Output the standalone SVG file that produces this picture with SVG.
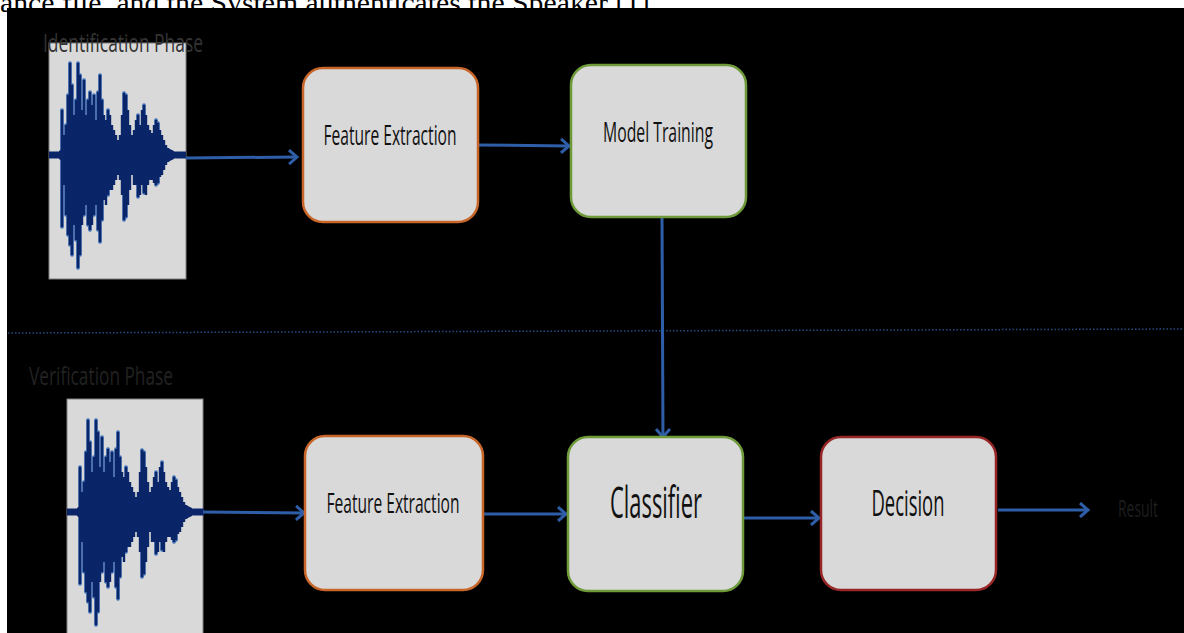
<svg xmlns="http://www.w3.org/2000/svg" xmlns:xlink="http://www.w3.org/1999/xlink" width="1184" height="633" viewBox="0 0 1184 633">
<defs>
<style>
.box{fill:#d9d9d9;stroke-width:2.5}
.lbl{font-family:"Open Sans","Liberation Sans",sans-serif;fill:#111;text-anchor:middle}
.conn{stroke:#2f5ea8;stroke-width:3;fill:none}
.phase{font-family:"Open Sans","Liberation Sans",sans-serif;font-size:26px}
.spk{stroke:#0b2668;stroke-width:2.4;stroke-linecap:butt}
.spkE{stroke:#3a6cb5;stroke-width:3.6;stroke-linecap:round}
</style>
<marker id="ah" markerWidth="12" markerHeight="16" refX="10" refY="8" orient="auto" markerUnits="userSpaceOnUse">
<path d="M2,1 L10,8 L2,15" fill="none" stroke="#2f5ea8" stroke-width="3"/>
</marker>
<g id="wave">
<g class="spkE">
<line x1="13" y1="-45" x2="13" y2="72"/><line x1="17" y1="-30" x2="17" y2="60"/><line x1="19" y1="-60" x2="19" y2="80"/><line x1="21" y1="-92" x2="21" y2="90"/><line x1="23" y1="-70" x2="23" y2="100"/><line x1="27" y1="-55" x2="27" y2="85"/><line x1="29" y1="-92" x2="29" y2="113"/><line x1="31" y1="-80" x2="31" y2="100"/><line x1="35" y1="-75" x2="35" y2="60"/><line x1="39" y1="-55" x2="39" y2="70"/><line x1="41" y1="-63" x2="41" y2="75"/><line x1="45" y1="-60" x2="45" y2="60"/><line x1="49" y1="-63" x2="49" y2="75"/><line x1="51" y1="-80" x2="51" y2="87"/><line x1="53" y1="-55" x2="53" y2="65"/><line x1="59" y1="-45" x2="59" y2="40"/><line x1="75" y1="-62" x2="75" y2="65"/><line x1="77" y1="-60" x2="77" y2="62"/><line x1="89" y1="-40" x2="89" y2="42"/><line x1="95" y1="-50" x2="95" y2="38"/><line x1="107" y1="-35" x2="107" y2="30"/><line x1="109" y1="-32" x2="109" y2="28"/>
</g>
<rect x="0" y="-3.5" width="137" height="7" fill="#0b2668"/>
<path d="M10,-4 Q40,-26 70,-12 Q100,-18 125,-4 L125,4 Q100,18 70,12 Q40,26 10,4 Z" fill="#0b2668"/>
<g class="spk">
<line x1="13" y1="-45" x2="13" y2="72"/><line x1="15" y1="-20" x2="15" y2="30"/><line x1="17" y1="-30" x2="17" y2="60"/><line x1="19" y1="-60" x2="19" y2="80"/><line x1="21" y1="-92" x2="21" y2="90"/><line x1="23" y1="-70" x2="23" y2="100"/><line x1="25" y1="-40" x2="25" y2="70"/><line x1="27" y1="-55" x2="27" y2="85"/><line x1="29" y1="-92" x2="29" y2="113"/><line x1="31" y1="-80" x2="31" y2="100"/><line x1="33" y1="-45" x2="33" y2="70"/><line x1="35" y1="-75" x2="35" y2="60"/><line x1="37" y1="-40" x2="37" y2="50"/><line x1="39" y1="-55" x2="39" y2="70"/><line x1="41" y1="-63" x2="41" y2="75"/><line x1="43" y1="-50" x2="43" y2="70"/><line x1="45" y1="-60" x2="45" y2="60"/><line x1="47" y1="-35" x2="47" y2="50"/><line x1="49" y1="-63" x2="49" y2="75"/><line x1="51" y1="-80" x2="51" y2="87"/><line x1="53" y1="-55" x2="53" y2="65"/><line x1="55" y1="-40" x2="55" y2="45"/><line x1="57" y1="-35" x2="57" y2="50"/><line x1="59" y1="-45" x2="59" y2="40"/><line x1="61" y1="-40" x2="61" y2="35"/><line x1="63" y1="-30" x2="63" y2="35"/><line x1="65" y1="-25" x2="65" y2="30"/><line x1="67" y1="-20" x2="67" y2="25"/><line x1="69" y1="-15" x2="69" y2="20"/><line x1="71" y1="-20" x2="71" y2="25"/><line x1="73" y1="-40" x2="73" y2="40"/><line x1="75" y1="-62" x2="75" y2="65"/><line x1="77" y1="-60" x2="77" y2="62"/><line x1="79" y1="-45" x2="79" y2="50"/><line x1="81" y1="-30" x2="81" y2="35"/><line x1="83" y1="-20" x2="83" y2="20"/><line x1="85" y1="-25" x2="85" y2="30"/><line x1="87" y1="-35" x2="87" y2="30"/><line x1="89" y1="-40" x2="89" y2="42"/><line x1="91" y1="-30" x2="91" y2="40"/><line x1="93" y1="-45" x2="93" y2="30"/><line x1="95" y1="-50" x2="95" y2="38"/><line x1="97" y1="-40" x2="97" y2="40"/><line x1="99" y1="-30" x2="99" y2="30"/><line x1="101" y1="-25" x2="101" y2="25"/><line x1="103" y1="-22" x2="103" y2="25"/><line x1="105" y1="-30" x2="105" y2="28"/><line x1="107" y1="-35" x2="107" y2="30"/><line x1="109" y1="-32" x2="109" y2="28"/><line x1="111" y1="-25" x2="111" y2="22"/><line x1="113" y1="-20" x2="113" y2="20"/><line x1="115" y1="-15" x2="115" y2="15"/><line x1="117" y1="-10" x2="117" y2="10"/><line x1="119" y1="-7" x2="119" y2="7"/><line x1="121" y1="-5" x2="121" y2="5"/>
</g>
</g>
</defs>
<rect x="0" y="0" width="1184" height="633" fill="#ffffff"/>
<text x="0" y="12" font-family="Liberation Serif, serif" font-size="28" fill="#000" textLength="650" lengthAdjust="spacingAndGlyphs">ance file, and the System authenticates the Speaker [1]</text>
<rect x="7" y="8" width="1177" height="625" fill="#000000"/>

<line x1="8" y1="333" x2="1184" y2="329" stroke="#2f5ea8" stroke-width="1.5" stroke-dasharray="1.5,2" opacity="0.8"/>

<g id="wave-identification">
<rect x="49" y="43" width="137" height="236" fill="#d9d9d9" stroke="#808080" stroke-width="1"/>
<use xlink:href="#wave" transform="translate(49,155)"/>
</g>
<g id="wave-verification">
<rect x="67" y="399" width="136" height="240" fill="#d9d9d9" stroke="#808080" stroke-width="1"/>
<use xlink:href="#wave" transform="translate(67,512)"/>
</g>

<text class="phase" x="43" y="52" fill="#333333" textLength="160" lengthAdjust="spacingAndGlyphs">Identification Phase</text>
<text class="phase" x="29" y="385" fill="#222222" textLength="144" lengthAdjust="spacingAndGlyphs">Verification Phase</text>

<g id="connectors">
<line class="conn" x1="186" y1="158" x2="297" y2="157" marker-end="url(#ah)"/>
<line class="conn" x1="478" y1="145" x2="569" y2="146" marker-end="url(#ah)"/>
<line class="conn" x1="662" y1="217" x2="663" y2="437" marker-end="url(#ah)"/>
<line class="conn" x1="203" y1="512" x2="304" y2="513" marker-end="url(#ah)"/>
<line class="conn" x1="483" y1="514" x2="566" y2="514" marker-end="url(#ah)"/>
<line class="conn" x1="743" y1="518" x2="819" y2="518" marker-end="url(#ah)"/>
<line class="conn" x1="998" y1="510" x2="1088" y2="510" marker-end="url(#ah)"/>
</g>

<g id="fe-top">
<rect class="box" x="303" y="68" width="175" height="154" rx="20" stroke="#c8662a"/>
<text class="lbl" x="390" y="145" font-size="27" textLength="133" lengthAdjust="spacingAndGlyphs">Feature Extraction</text>
</g>
<g id="model-training">
<rect class="box" x="571" y="65" width="175" height="152" rx="20" stroke="#6e9a3a"/>
<text class="lbl" x="658" y="142" font-size="27" textLength="110" lengthAdjust="spacingAndGlyphs">Model Training</text>
</g>
<g id="fe-bottom">
<rect class="box" x="305" y="436" width="178" height="154" rx="20" stroke="#c8662a"/>
<text class="lbl" x="393" y="513" font-size="27" textLength="133" lengthAdjust="spacingAndGlyphs">Feature Extraction</text>
</g>
<g id="classifier">
<rect class="box" x="568" y="437" width="175" height="154" rx="20" stroke="#6e9a3a"/>
<text class="lbl" x="656" y="518" font-size="44" textLength="92" lengthAdjust="spacingAndGlyphs">Classifier</text>
</g>
<g id="decision">
<rect class="box" x="821" y="437" width="175" height="153" rx="20" stroke="#982626"/>
<text class="lbl" x="908" y="516" font-size="36" textLength="73" lengthAdjust="spacingAndGlyphs">Decision</text>
</g>
<g id="result">
<text x="1118" y="517" font-family="Open Sans, Liberation Sans, sans-serif" font-size="24" fill="#1e1e1e" textLength="40" lengthAdjust="spacingAndGlyphs">Result</text>
</g>
</svg>
